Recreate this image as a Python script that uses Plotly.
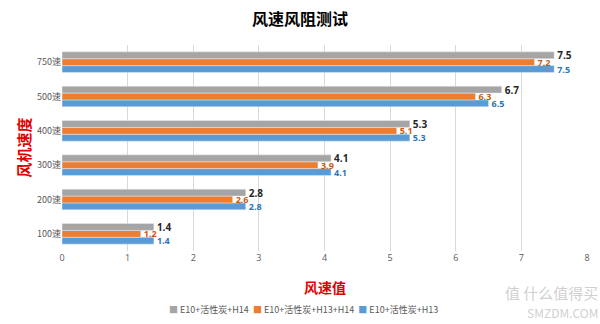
import plotly.graph_objects as go

categories = ["100速", "200速", "300速", "400速", "500速", "750速"]
h14 = [1.4, 2.8, 4.1, 5.3, 6.7, 7.5]
h13_h14 = [1.2, 2.6, 3.9, 5.1, 6.3, 7.2]
h13 = [1.4, 2.8, 4.1, 5.3, 6.5, 7.5]
x_ticks = [0, 1, 2, 3, 4, 5, 6, 7, 8]

series_names = ["E10+活性炭+H14", "E10+活性炭+H13+H14", "E10+活性炭+H13"]
series_colors = ["#A5A5A5", "#ED7D31", "#5B9BD5"]

font_cjk = "Noto Sans CJK SC"


def labels(vals):
    return [f"<b>{v:.1f}</b>" for v in vals]


fig = go.Figure()
fig.add_trace(go.Bar(
    y=categories, x=h13, orientation="h", name=series_names[2],
    marker_color=series_colors[2], text=labels(h13), textposition="outside", constraintext="none",
    textfont=dict(color="#2E75B6", size=9, family="Open Sans"), cliponaxis=False,
))
fig.add_trace(go.Bar(
    y=categories, x=h13_h14, orientation="h", name=series_names[1],
    marker_color=series_colors[1], text=labels(h13_h14), textposition="outside", constraintext="none",
    textfont=dict(color="#C55A11", size=9, family="Open Sans"), cliponaxis=False,
))
fig.add_trace(go.Bar(
    y=categories, x=h14, orientation="h", name=series_names[0],
    marker_color=series_colors[0], text=labels(h14), textposition="outside", constraintext="none",
    textfont=dict(color="#262626", size=10, family="Open Sans"), cliponaxis=False,
))

fig.update_layout(
    width=600, height=324,
    margin=dict(l=62, r=13, t=45, b=73, autoexpand=False),
    paper_bgcolor="white", plot_bgcolor="white",
    barmode="group", bargap=0.4, bargroupgap=0,
    showlegend=False,
    title=dict(text="<b>风速风阻测试</b>", x=0.5, xanchor="center", y=0.94, yanchor="middle",
               font=dict(family=font_cjk, size=16, color="#000000")),
    xaxis=dict(range=[0, 8], tickvals=x_ticks, showgrid=True, gridcolor="#D9D9D9", gridwidth=1,
               zeroline=False, showline=False, ticks="",
               tickfont=dict(size=9, color="#595959", family="Open Sans")),
    yaxis=dict(showgrid=False, showline=False, ticks="", zeroline=False,
               tickfont=dict(size=9, color="#595959", family=font_cjk)),
)

# Legend (Excel-style compact legend) built from the series names/colours
legend_text = "  ".join(
    f'<span style="color:{c}">■</span> {n}' for n, c in zip(series_names, series_colors)
)
fig.add_annotation(text=legend_text, xref="paper", yref="paper", x=0.46, y=-0.285,
                   xanchor="center", yanchor="middle", showarrow=False,
                   font=dict(family=font_cjk, size=9, color="#595959"))

fig.add_annotation(text="<b>风速值</b>", xref="paper", yref="paper", x=0.5, y=-0.115,
                   xanchor="center", yanchor="top", showarrow=False,
                   font=dict(family=font_cjk, size=14, color="#E00000"))
fig.add_annotation(text="<b>风机速度</b>", xref="paper", yref="paper", x=-0.075, y=0.5,
                   xanchor="center", yanchor="middle", textangle=-90, showarrow=False,
                   font=dict(family=font_cjk, size=15, color="#E00000"))
fig.add_annotation(text="值 什么值得买", xref="paper", yref="paper", x=1.025, y=-0.2,
                   xanchor="right", yanchor="middle", showarrow=False,
                   font=dict(family=font_cjk, size=15, color="rgba(195,195,195,0.8)"))
fig.add_annotation(text="SMZDM.COM", xref="paper", yref="paper", x=1.025, y=-0.3,
                   xanchor="right", yanchor="middle", showarrow=False,
                   font=dict(family=font_cjk, size=12, color="rgba(195,195,195,0.8)"))

fig.write_html("out.html")
